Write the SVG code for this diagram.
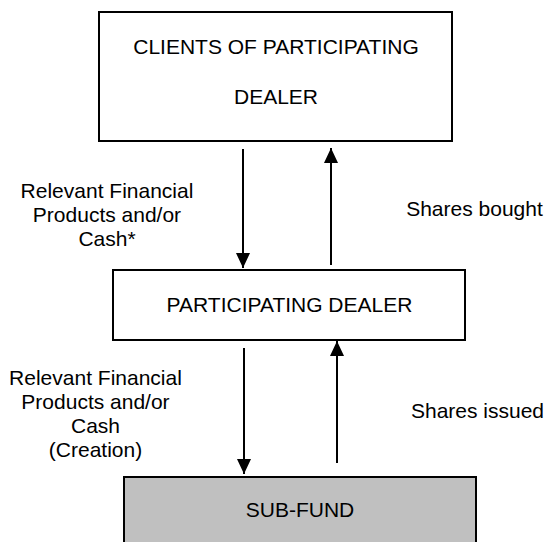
<svg xmlns="http://www.w3.org/2000/svg" width="547" height="542" viewBox="0 0 547 542">
  <defs>
    <marker id="arrow" viewBox="0 0 15 14" refX="15" refY="7" markerWidth="15" markerHeight="14" markerUnits="userSpaceOnUse" orient="auto">
      <path d="M0,0 L15,7 L0,14 z" fill="#000"/>
    </marker>
    <style>
      .box { fill: #ffffff; stroke: #000; stroke-width: 2; }
      .gray { fill: #c0c0c0; stroke: #000; stroke-width: 2; }
      .lbl { font-family: "Liberation Sans", Arial, sans-serif; font-size: 21px; fill: #000; text-anchor: middle; }
      .conn { stroke: #000; stroke-width: 2; fill: none; marker-end: url(#arrow); }
    </style>
  </defs>
  <rect width="547" height="542" fill="#ffffff"/>

  <g id="clients">
    <rect class="box" x="99" y="12" width="353" height="129"/>
    <text class="lbl" x="276" y="54">CLIENTS OF PARTICIPATING</text>
    <text class="lbl" x="276" y="104">DEALER</text>
  </g>

  <g id="dealer">
    <rect class="box" x="113" y="270" width="352" height="70"/>
    <text class="lbl" x="289.5" y="312">PARTICIPATING DEALER</text>
  </g>

  <g id="subfund">
    <rect class="gray" x="124" y="477" width="352" height="75"/>
    <text class="lbl" x="300" y="517">SUB-FUND</text>
  </g>

  <g id="connectors">
    <line class="conn" x1="243" y1="149" x2="243" y2="268"/>
    <line class="conn" x1="331" y1="265" x2="331" y2="148"/>
    <line class="conn" x1="244" y1="348" x2="244" y2="474"/>
    <line class="conn" x1="337" y1="463" x2="337" y2="341"/>
  </g>

  <g id="labels">
    <text class="lbl" x="107" y="198">Relevant Financial</text>
    <text class="lbl" x="107" y="222">Products and/or</text>
    <text class="lbl" x="107" y="246">Cash*</text>
    <text class="lbl" x="474.5" y="216">Shares bought</text>
    <text class="lbl" x="95.5" y="385">Relevant Financial</text>
    <text class="lbl" x="95.5" y="409">Products and/or</text>
    <text class="lbl" x="95.5" y="433">Cash</text>
    <text class="lbl" x="95.5" y="457">(Creation)</text>
    <text class="lbl" x="477.5" y="418">Shares issued</text>
  </g>
</svg>
